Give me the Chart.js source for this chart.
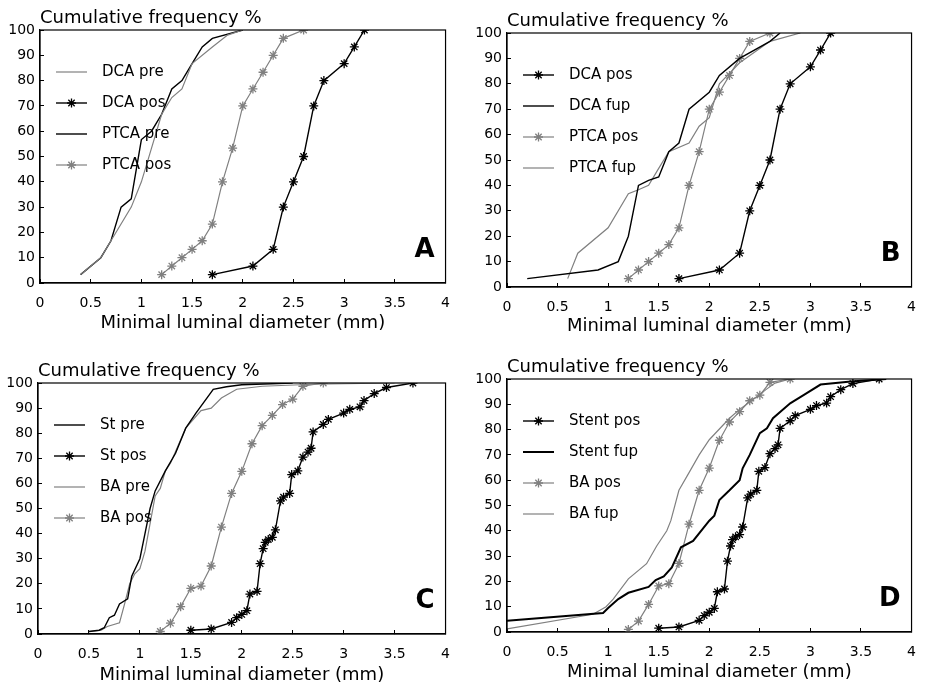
<!DOCTYPE html>
<html>
<head>
<meta charset="utf-8">
<title>Cumulative frequency of minimal luminal diameter</title>
<script src="https://cdn.jsdelivr.net/npm/chart.js@4.4.1/dist/chart.umd.min.js"></script>
<style>
  html, body { margin: 0; padding: 0; background: #fff; overflow: hidden; }
  #wrap { position: relative; width: 932px; height: 686px; }
  canvas { position: absolute; }
</style>
</head>
<body>
<div id="wrap">
  <canvas id="chartA"></canvas>
  <canvas id="chartB"></canvas>
  <canvas id="chartC"></canvas>
  <canvas id="chartD"></canvas>
</div>
<script>
// axis ticks
const xTickValues = [0, 0.5, 1, 1.5, 2, 2.5, 3, 3.5, 4];
const yTickValues = [0, 10, 20, 30, 40, 50, 60, 70, 80, 90, 100];

// DCA / PTCA  [diameter mm, cumulative %]
const dcaPre = [[0.4, 3.3], [0.6, 10], [0.7, 16.7], [0.9, 30], [1.0, 40], [1.1, 53.3], [1.2, 66.7],
  [1.3, 73.3], [1.4, 76.7], [1.5, 86.7], [1.7, 93.3], [1.85, 98], [2.0, 100]];
const ptcaPre = [[0.4, 3.3], [0.6, 10], [0.7, 16.7], [0.8, 30], [0.9, 33.3], [1.0, 56.7], [1.1, 60],
  [1.2, 66.7], [1.3, 76.7], [1.4, 80], [1.5, 86.7], [1.6, 93.3], [1.7, 96.7], [2.0, 100]];
const dcaPos = [[1.7, 3.3], [2.1, 6.7], [2.3, 13.3], [2.4, 30], [2.5, 40], [2.6, 50], [2.7, 70],
  [2.8, 80], [3.0, 86.7], [3.1, 93.3], [3.2, 100]];
const ptcaPos = [[1.2, 3.3], [1.3, 6.7], [1.4, 10], [1.5, 13.3], [1.6, 16.7], [1.7, 23.3], [1.8, 40],
  [1.9, 53.3], [2.0, 70], [2.1, 76.7], [2.2, 83.3], [2.3, 90], [2.4, 96.7], [2.6, 100]];
const dcaFup = [[0.2, 3.3], [0.9, 6.7], [1.1, 10], [1.2, 20], [1.3, 40], [1.4, 42], [1.5, 43.3],
  [1.6, 53.3], [1.7, 56.7], [1.8, 70], [2.0, 76.7], [2.1, 83.3], [2.3, 90], [2.6, 96.7], [2.7, 100]];
const ptcaFup = [[0.6, 3.3], [0.7, 13.3], [1.0, 23.3], [1.2, 36.7], [1.3, 38.3], [1.4, 40], [1.5, 46.7],
  [1.6, 53.3], [1.8, 56.7], [1.9, 63.3], [2.0, 66.7], [2.1, 80], [2.3, 88.3], [2.6, 96.7], [2.9, 100]];

// Stent / balloon angioplasty
const stPre = [[0.5, 1], [0.6, 1.5], [0.65, 2.5], [0.7, 6.5], [0.75, 7.5], [0.8, 12], [0.88, 14],
  [0.92, 23], [1.0, 30], [1.05, 40], [1.1, 50], [1.15, 57], [1.25, 65], [1.35, 72], [1.45, 82],
  [1.55, 88], [1.72, 97.5], [1.85, 98.5], [2.0, 99.3], [2.5, 100]];
const baPre = [[0.5, 1], [0.62, 1.5], [0.68, 3], [0.8, 4.5], [0.85, 12], [0.9, 20], [0.95, 24],
  [1.0, 26], [1.05, 33], [1.1, 44], [1.15, 55], [1.2, 58], [1.25, 65], [1.3, 68], [1.45, 82],
  [1.6, 89], [1.7, 90], [1.8, 94], [1.95, 97.5], [2.2, 98.7], [2.7, 99.5], [3.5, 100]];
const stPos = [[1.5, 1.5], [1.7, 2], [1.9, 4.6], [1.95, 6.5], [2.0, 7.8], [2.05, 9.3], [2.08, 15.9],
  [2.15, 17], [2.18, 28], [2.21, 34], [2.23, 36.5], [2.26, 37.6], [2.3, 38.5], [2.33, 41.5],
  [2.38, 53], [2.41, 54.5], [2.47, 56], [2.49, 63.5], [2.55, 65], [2.6, 70.5], [2.65, 72.5],
  [2.68, 74], [2.7, 80.5], [2.8, 83.5], [2.85, 85.5], [3.0, 88], [3.06, 89.5], [3.16, 90.5],
  [3.2, 93], [3.3, 95.8], [3.42, 98.2], [3.68, 100]];
const baPos = [[1.2, 1], [1.3, 4.3], [1.4, 10.9], [1.5, 18.2], [1.6, 19.1], [1.7, 27.1], [1.8, 42.6],
  [1.9, 56], [2.0, 64.8], [2.1, 75.8], [2.2, 83], [2.3, 87.1], [2.4, 91.4], [2.5, 93.6],
  [2.6, 98.7], [2.8, 100]];
const stentFup = [[0, 4.4], [0.95, 7.5], [1.0, 9.5], [1.1, 13], [1.2, 15.5], [1.4, 17.8], [1.47, 20.5],
  [1.55, 22], [1.63, 25.5], [1.72, 33.5], [1.84, 36], [2.0, 44], [2.05, 46], [2.1, 52.2], [2.2, 56],
  [2.3, 60], [2.33, 64.7], [2.4, 70], [2.5, 78.6], [2.57, 80.5], [2.63, 84.5], [2.8, 90.4],
  [2.94, 93.8], [3.1, 97.8], [3.4, 99], [3.75, 100]];
const baFup = [[0, 1.2], [0.85, 7], [0.98, 10], [1.05, 13], [1.2, 21], [1.38, 27], [1.48, 34],
  [1.58, 40], [1.62, 44], [1.7, 56], [1.8, 63], [1.9, 70], [2.0, 76], [2.2, 84.5], [2.3, 88],
  [2.47, 93], [2.56, 95.8], [2.65, 98.4], [2.8, 100]];

const BLACK = '#000';
const GRAY = '#808080';
const FONT = '"DejaVu Sans", Arial, sans-serif';

function series(label, data, color, star, width) {
  return {
    label: label,
    data: data,
    showLine: true,
    borderColor: color,
    borderWidth: width || (color === BLACK ? 1.4 : 1.2),
    pointStyle: star ? 'star' : false,
    pointRadius: star ? 4.5 : 0,
    pointBorderColor: color,
    pointBorderWidth: 1.3,
    fill: false
  };
}

// frame, title, panel letter and legend drawn inside the plot area
const panelDecor = {
  id: 'panelDecor',
  afterDraw(chart, args, opts) {
    const { ctx, chartArea: a } = chart;
    ctx.save();
    ctx.strokeStyle = BLACK;
    ctx.lineWidth = 1.2;
    ctx.strokeRect(a.left, a.top, a.right - a.left, a.bottom - a.top);

    ctx.fillStyle = '#000';
    ctx.font = '18px ' + FONT;
    ctx.textBaseline = 'alphabetic';
    ctx.textAlign = 'left';
    ctx.fillText('Cumulative frequency %', a.left, a.top - 7);

    ctx.font = 'bold 26px ' + FONT;
    ctx.textAlign = 'right';
    ctx.fillText(opts.letter, a.right - 11, a.bottom - 26);

    chart.data.datasets.forEach((ds, i) => {
      const y = a.top + 42 + i * 31;
      const x0 = a.left + 16, x1 = a.left + 47;
      ctx.strokeStyle = ds.borderColor;
      ctx.lineWidth = ds.borderWidth;
      ctx.beginPath();
      ctx.moveTo(x0, y);
      ctx.lineTo(x1, y);
      ctx.stroke();
      if (ds.pointStyle === 'star') {
        ctx.lineWidth = ds.pointBorderWidth;
        Chart.helpers.drawPoint(ctx, { pointStyle: 'star', radius: ds.pointRadius, borderWidth: ds.pointBorderWidth, rotation: 0 }, (x0 + x1) / 2, y);
      }
      ctx.fillStyle = '#000';
      ctx.font = '15px ' + FONT;
      ctx.textAlign = 'left';
      ctx.textBaseline = 'middle';
      ctx.fillText(ds.label, a.left + 62, y);
    });
    ctx.restore();
  }
};

function makePanel(id, box, area, labelY, letter, datasets) {
  const cv = document.getElementById(id);
  cv.style.left = box[0] + 'px';
  cv.style.top = box[1] + 'px';
  cv.width = box[2];
  cv.height = box[3];
  const xHeight = box[3] - area[3];
  return new Chart(cv, {
    type: 'scatter',
    data: { datasets: datasets },
    options: {
      responsive: false,
      animation: false,
      events: [],
      layout: { padding: { left: 0, top: area[1], right: box[2] - area[2], bottom: 0 } },
      plugins: {
        legend: { display: false },
        tooltip: { enabled: false },
        panelDecor: { letter: letter }
      },
      scales: {
        x: {
          type: 'linear', min: 0, max: 4,
          afterBuildTicks: s => { s.ticks = xTickValues.map(v => ({ value: v })); },
          afterFit: s => { s.height = xHeight; },
          ticks: { color: '#000', font: { family: FONT, size: 14 }, padding: 16, maxRotation: 0,
            callback: v => String(v) },
          grid: { drawOnChartArea: false, tickLength: -4, color: BLACK },
          border: { color: BLACK, width: 1.2 },
          title: {
            display: true, text: 'Minimal luminal diameter (mm)', color: '#000',
            font: { family: FONT, size: 18 },
            padding: { top: 0, bottom: Math.max(0, box[3] - labelY - 10.8) }
          }
        },
        y: {
          type: 'linear', min: 0, max: 100,
          afterBuildTicks: s => { s.ticks = yTickValues.map(v => ({ value: v })); },
          afterFit: s => { s.width = area[0]; },
          ticks: { color: '#000', font: { family: FONT, size: 14 }, padding: 9,
            callback: v => String(v) },
          grid: { drawOnChartArea: false, tickLength: -4, color: BLACK },
          border: { color: BLACK, width: 1.2 }
        }
      }
    },
    plugins: [panelDecor]
  });
}

makePanel('chartA', [0, 0, 466, 340], [40, 30, 457, 283], 323, 'A', [
  series('DCA pre', dcaPre, GRAY, false),
  series('DCA pos', dcaPos, BLACK, true),
  series('PTCA pre', ptcaPre, BLACK, false),
  series('PTCA pos', ptcaPos, GRAY, true)
]);

makePanel('chartB', [466, 0, 466, 340], [41, 33, 460, 287], 326, 'B', [
  series('DCA pos', dcaPos, BLACK, true),
  series('DCA fup', dcaFup, BLACK, false),
  series('PTCA pos', ptcaPos, GRAY, true),
  series('PTCA fup', ptcaFup, GRAY, false)
]);

makePanel('chartC', [0, 340, 466, 346], [38, 43, 453, 294], 337, 'C', [
  series('St pre', stPre, BLACK, false),
  series('St pos', stPos, BLACK, true),
  series('BA pre', baPre, GRAY, false),
  series('BA pos', baPos, GRAY, true)
]);

makePanel('chartD', [466, 340, 466, 346], [41, 39, 461, 292], 332, 'D', [
  series('Stent pos', stPos, BLACK, true),
  series('Stent fup', stentFup, BLACK, false, 2),
  series('BA pos', baPos, GRAY, true),
  series('BA fup', baFup, GRAY, false)
]);
</script>
</body>
</html>
